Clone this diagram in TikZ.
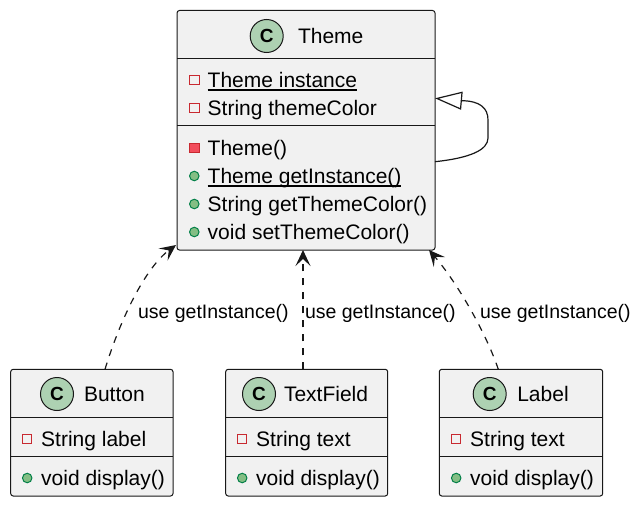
\documentclass[tikz,border=0pt]{standalone}
\usepackage{fontspec}
\setmainfont{Liberation Sans}
\usetikzlibrary{arrows.meta,calc}
\definecolor{boxfill}{HTML}{F1F1F1}
\definecolor{border}{HTML}{181818}
\definecolor{circfill}{HTML}{ADD1B2}
\definecolor{privred}{HTML}{C82930}
\definecolor{privfill}{HTML}{F24D5C}
\definecolor{pubgreen}{HTML}{038048}
\definecolor{pubfill}{HTML}{84BE84}
\newcommand{\ulmember}[1]{\setbox0\hbox{#1}\rlap{\vrule height -2pt depth 3.5pt width \wd0}\box0}
\begin{document}
\begin{tikzpicture}[x=1pt,y=-1pt,
  classbox/.style={draw=border, fill=boxfill, line width=1pt, rounded corners=2.5pt, inner sep=0pt, outer sep=0pt},
  divider/.style={draw=border, line width=1pt},
  member/.style={anchor=base west, inner sep=0pt, outer sep=0pt, font=\fontsize{21}{25}\selectfont},
  deplabel/.style={anchor=base west, inner sep=0pt, outer sep=0pt, font=\fontsize{19.5}{23}\selectfont},
  cicon/.style={circle, draw=border, fill=circfill, line width=1pt, minimum size=33pt, inner sep=0pt, font=\fontsize{19}{19}\selectfont\bfseries},
  fieldicon/.style={rectangle, draw=privred, line width=1pt, minimum size=9.5pt, inner sep=0pt},
  privmeth/.style={rectangle, draw=privred, fill=privfill, line width=1pt, minimum size=9.5pt, inner sep=0pt},
  pubmeth/.style={circle, draw=pubgreen, fill=pubfill, line width=1pt, minimum size=9.5pt, inner sep=0pt},
  dep/.style={draw=border, line width=1.2pt, dash pattern=on 7pt off 7pt, -{Stealth[length=16pt,width=15pt,inset=7pt]}},
  gen/.style={draw=border, line width=1.2pt, -{Triangle[open,length=27pt,width=18pt,fill=white]}}
]
\useasboundingbox (0,0) rectangle (639,505);

% ---------- Theme ----------
\node[classbox, minimum width=258pt, minimum height=239.5pt] (theme) at (306,130.25) {};
\draw[divider] ($(theme.north west)+(0,48.2)$) -- ($(theme.north east)+(0,48.2)$);
\draw[divider] ($(theme.north west)+(0,115.2)$) -- ($(theme.north east)+(0,115.2)$);
\node[cicon] (themeC) at (266.7,36) {C};
\node[member] (themeT) at (298,43.3) {Theme};
\node[fieldicon] (ti1) at (194.3,80) {};
\node[member] (tm1) at (207.7,87.4) {\ulmember{Theme instance}};
\node[fieldicon] (ti2) at (194.3,108) {};
\node[member] (tm2) at (207.7,115.4) {String themeColor};
\node[privmeth] (ti3) at (194.3,148) {};
\node[member] (tm3) at (207.7,155.4) {Theme()};
\node[pubmeth] (ti4) at (194.3,176) {};
\node[member] (tm4) at (207.7,183.4) {\ulmember{Theme getInstance()}};
\node[pubmeth] (ti5) at (194.3,204) {};
\node[member] (tm5) at (207.7,211.4) {String getThemeColor()};
\node[pubmeth] (ti6) at (194.3,232) {};
\node[member] (tm6) at (207.7,239.4) {void setThemeColor()};

% ---------- Button ----------
\node[classbox, minimum width=162.3pt, minimum height=126.7pt] (button) at (91.85,432.65) {};
\draw[divider] ($(button.north west)+(0,48)$) -- ($(button.north east)+(0,48)$);
\draw[divider] ($(button.north west)+(0,87.4)$) -- ($(button.north east)+(0,87.4)$);
\node[cicon] (buttonC) at (57,394) {C};
\node[member] (buttonT) at (84,401.3) {Button};
\node[fieldicon] (bi1) at (27.2,439) {};
\node[member] (bm1) at (41.2,446.4) {String label};
\node[pubmeth] (bi2) at (27.2,478) {};
\node[member] (bm2) at (41.2,485.4) {void display()};

% ---------- TextField ----------
\node[classbox, minimum width=162pt, minimum height=126.7pt] (textfield) at (306.7,432.65) {};
\draw[divider] ($(textfield.north west)+(0,48)$) -- ($(textfield.north east)+(0,48)$);
\draw[divider] ($(textfield.north west)+(0,87.4)$) -- ($(textfield.north east)+(0,87.4)$);
\node[cicon] (textfieldC) at (259,394) {C};
\node[member] (textfieldT) at (284,401.3) {TextField};
\node[fieldicon] (fi1) at (242.2,439) {};
\node[member] (fm1) at (256.2,446.4) {String text};
\node[pubmeth] (fi2) at (242.2,478) {};
\node[member] (fm2) at (256.2,485.4) {void display()};

% ---------- Label ----------
\node[classbox, minimum width=163.4pt, minimum height=126.7pt] (label) at (521,432.65) {};
\draw[divider] ($(label.north west)+(0,48)$) -- ($(label.north east)+(0,48)$);
\draw[divider] ($(label.north west)+(0,87.4)$) -- ($(label.north east)+(0,87.4)$);
\node[cicon] (labelC) at (489.7,394) {C};
\node[member] (labelT) at (517.3,401.3) {Label};
\node[fieldicon] (li1) at (456.2,439) {};
\node[member] (lm1) at (470.2,446.4) {String text};
\node[pubmeth] (li2) at (456.2,478) {};
\node[member] (lm2) at (470.2,485.4) {void display()};

% ---------- dependencies ----------
\draw[dep] ($(button.north west)+(94.3,0)$) .. controls (120,320) and (145,268) .. ($(theme.south west)+(-1,-5)$);
\draw[dep] ($(textfield.north west)+(77.3,0)$) -- ($(theme.south west)+(126,0)$);
\draw[dep] ($(label.north west)+(59,0)$) .. controls (485,330) and (455,280) .. ($(theme.south east)+(-6,0)$);
\node[deplabel] (lab1) at (138,318.3) {use getInstance()};
\node[deplabel] (lab2) at (305,318.3) {use getInstance()};
\node[deplabel] (lab3) at (480,318.3) {use getInstance()};

% ---------- self association ----------
\draw[gen] ($(theme.north east)+(0,151.2)$) .. controls (470,158) and (488,150) .. (488,138) -- (488,120) .. controls (488,108) and (480,101) .. (462,100.7) -- ($(theme.north east)+(0,87.8)$);
\end{tikzpicture}
\end{document}
